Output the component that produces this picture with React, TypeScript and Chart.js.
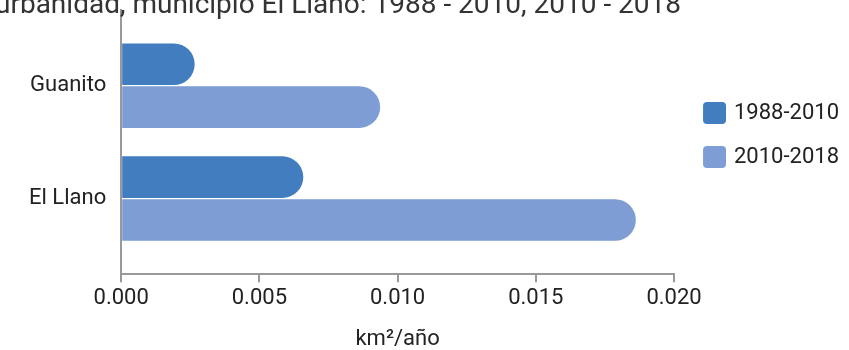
import React, { useEffect, useRef } from 'react';
import { Chart, registerables } from 'chart.js';

Chart.register(...registerables);

const categories = ['Guanito', 'El Llano'];
const seriesNames = ['1988-2010', '2010-2018'];
const values1988_2010 = [0.00266, 0.00659];
const values2010_2018 = [0.00937, 0.01862];
const xTicks = [0, 0.005, 0.01, 0.015, 0.02];
const titleText = 'Tasa de cambio de la urbanidad, municipio El Llano: 1988 - 2010, 2010 - 2018';
const xTitle = 'km²/año';
const colors = ['#427DC0', '#7E9DD4'];

const clippedTitle = {
  id: 'clippedTitle',
  afterDraw(chart: any) {
    const ctx = chart.ctx;
    ctx.save();
    ctx.font = 'normal 28px Roboto';
    ctx.fillStyle = '#333';
    ctx.textAlign = 'right';
    ctx.textBaseline = 'alphabetic';
    ctx.fillText(titleText, chart.chartArea.right + 7, 13);
    ctx.restore();
  },
};

// legend swatch: rounded square, offset to the right inside a wider image
const makeSwatch = (color: string) => {
  const c = document.createElement('canvas');
  c.width = 33;
  c.height = 22;
  const g = c.getContext('2d')!;
  g.fillStyle = color;
  g.beginPath();
  (g as any).roundRect(10, 0, 23, 22, 4);
  g.fill();
  return c;
};

export default function App() {
  const ref = useRef<HTMLCanvasElement>(null);
  useEffect(() => {
    const toPoints = (vals: number[]) => vals.map((v, i) => ({ x: v, y: i }));
    const font = { family: 'Roboto', size: 22 };
    const swatches = colors.map(makeSwatch);
    const chart = new Chart(ref.current!, {
      type: 'bar',
      data: {
        datasets: [
          { label: seriesNames[0], data: toPoints(values1988_2010), backgroundColor: colors[0], borderWidth: 0 },
          { label: seriesNames[1], data: toPoints(values2010_2018), backgroundColor: colors[1], borderWidth: 0 },
        ],
      },
      plugins: [clippedTitle],
      options: {
        indexAxis: 'y',
        animation: false,
        responsive: false,
        maintainAspectRatio: false,
        categoryPercentage: 0.76,
        barPercentage: 0.97,
        datasets: {
          bar: { borderRadius: 21, borderSkipped: 'start' },
        },
        layout: { padding: { left: 29, right: 0, top: 10, bottom: 0 } },
        scales: {
          y: {
            type: 'linear',
            reverse: true,
            offset: false,
            min: -0.67,
            max: 1.67,
            afterBuildTicks: (s: any) => {
              s.ticks = categories.map((_, i) => ({ value: i }));
            },
            ticks: {
              callback: (v: any) => categories[v as number],
              font: { family: 'Roboto', size: 22, lineHeight: 0.9 },
              color: '#222',
              padding: 0,
            },
            grid: {
              display: true,
              drawOnChartArea: false,
              drawTicks: true,
              tickLength: 15,
              color: 'rgba(0,0,0,0)',
              offset: false,
            },
            border: { display: true, color: '#999', width: 2 },
          },
          x: {
            type: 'linear',
            min: 0,
            max: 0.02,
            afterBuildTicks: (s: any) => {
              s.ticks = xTicks.map((value) => ({ value }));
            },
            ticks: {
              callback: (v: any) => Number(v).toFixed(3),
              font,
              color: '#222',
              padding: 3,
              maxRotation: 0,
            },
            grid: { drawOnChartArea: false, drawTicks: true, tickLength: 8, color: '#999', lineWidth: 2 },
            border: { display: true, color: '#999', width: 2 },
            title: { display: true, text: xTitle, font, color: '#222', padding: { top: 12, bottom: -3 } },
          },
        },
        plugins: {
          title: { display: false },
          legend: {
            position: 'right',
            title: { display: true, text: '', font: { size: 10 }, padding: { top: 0, bottom: -102 } },
            labels: {
              usePointStyle: true,
              pointStyleWidth: 27,
              boxHeight: 22,
              padding: 22,
              font,
              color: '#222',
              generateLabels: (ch: any) =>
                (Chart.defaults.plugins.legend.labels.generateLabels as any)(ch).map((l: any, i: number) => ({
                  ...l,
                  pointStyle: swatches[i],
                  lineWidth: 0,
                })),
            },
          },
          tooltip: { enabled: false },
        },
      } as any,
    });
    return () => chart.destroy();
  }, []);
  return (
    <div style={{ position: 'fixed', left: 0, top: 0, width: 849, height: 350 }}>
      <canvas ref={ref} width={849} height={350} style={{ display: 'block' }} />
    </div>
  );
}
